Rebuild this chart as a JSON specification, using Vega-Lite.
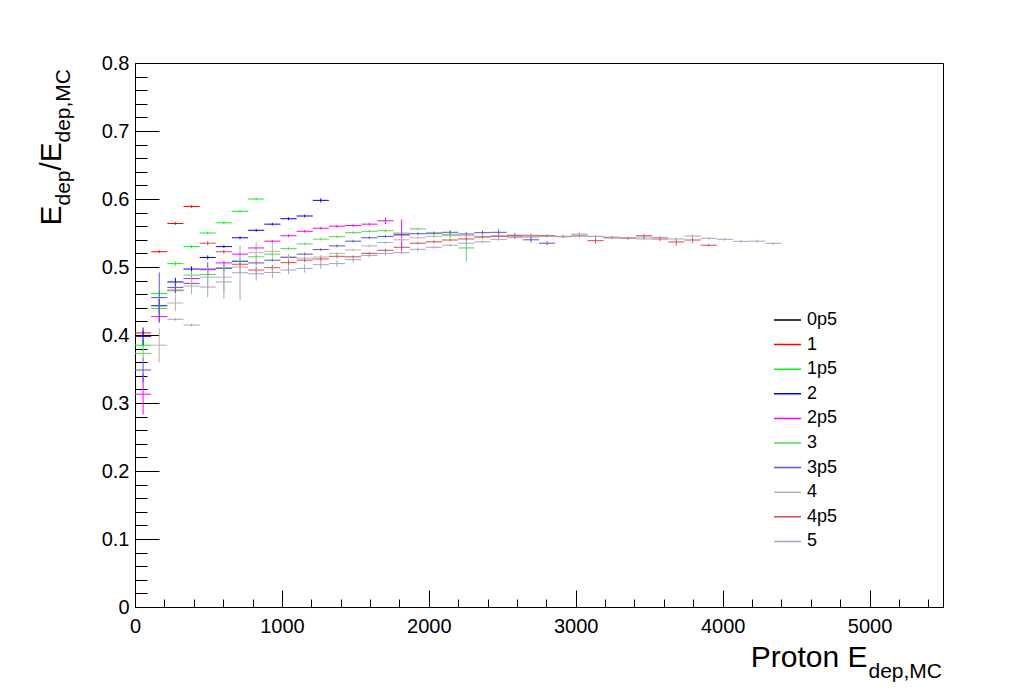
{
  "$schema": "https://vega.github.io/schema/vega-lite/v6.json",
  "autosize": {"type": "none"},
  "width": 808,
  "height": 544,
  "padding": {"left": 135, "top": 63, "right": 88, "bottom": 90},
  "background": "#ffffff",
  "config": {
    "font": "Liberation Sans",
    "view": {"stroke": "#000000", "strokeWidth": 1},
    "axis": {"grid": false, "domainColor": "#000000", "tickColor": "#000000", "labelColor": "#000000", "titleColor": "#000000", "titleFontWeight": "normal", "labelFont": "Liberation Sans", "titleFont": "Liberation Sans"}
  },
  "data": {"values": [
    {"s":"1","E":55,"v":0.403,"e":0.003},{"s":"1","E":165,"v":0.5225,"e":0.002},{"s":"1","E":275,"v":0.564,"e":0.002},{"s":"1","E":385,"v":0.589,"e":0.002},
    {"s":"1p5","E":55,"v":0.385,"e":0.008},{"s":"1p5","E":165,"v":0.461,"e":0.004},{"s":"1p5","E":275,"v":0.505,"e":0.003},{"s":"1p5","E":385,"v":0.53,"e":0.002},{"s":"1p5","E":495,"v":0.55,"e":0.002},{"s":"1p5","E":605,"v":0.565,"e":0.002},{"s":"1p5","E":715,"v":0.582,"e":0.002},{"s":"1p5","E":825,"v":0.6,"e":0.002},
    {"s":"2","E":55,"v":0.398,"e":0.013},{"s":"2","E":165,"v":0.443,"e":0.01},{"s":"2","E":275,"v":0.478,"e":0.006},{"s":"2","E":385,"v":0.497,"e":0.004},{"s":"2","E":495,"v":0.514,"e":0.003},{"s":"2","E":605,"v":0.53,"e":0.002},{"s":"2","E":715,"v":0.543,"e":0.002},{"s":"2","E":825,"v":0.554,"e":0.002},{"s":"2","E":935,"v":0.563,"e":0.002},{"s":"2","E":1045,"v":0.571,"e":0.002},{"s":"2","E":1155,"v":0.575,"e":0.002},{"s":"2","E":1265,"v":0.598,"e":0.003},
    {"s":"2p5","E":55,"v":0.313,"e":0.03},{"s":"2p5","E":165,"v":0.427,"e":0.008},{"s":"2p5","E":275,"v":0.466,"e":0.005},{"s":"2p5","E":385,"v":0.483,"e":0.004},{"s":"2p5","E":495,"v":0.496,"e":0.003},{"s":"2p5","E":605,"v":0.506,"e":0.003},{"s":"2p5","E":715,"v":0.519,"e":0.002},{"s":"2p5","E":825,"v":0.528,"e":0.002},{"s":"2p5","E":935,"v":0.538,"e":0.002},{"s":"2p5","E":1045,"v":0.546,"e":0.002},{"s":"2p5","E":1155,"v":0.5525,"e":0.002},{"s":"2p5","E":1265,"v":0.557,"e":0.002},{"s":"2p5","E":1375,"v":0.56,"e":0.002},{"s":"2p5","E":1485,"v":0.561,"e":0.002},{"s":"2p5","E":1595,"v":0.563,"e":0.002},{"s":"2p5","E":1705,"v":0.568,"e":0.005},{"s":"2p5","E":1815,"v":0.547,"e":0.023},
    {"s":"3","E":55,"v":0.373,"e":0.007},{"s":"3","E":165,"v":0.439,"e":0.006},{"s":"3","E":275,"v":0.465,"e":0.004},{"s":"3","E":385,"v":0.488,"e":0.006},{"s":"3","E":495,"v":0.489,"e":0.004},{"s":"3","E":605,"v":0.499,"e":0.003},{"s":"3","E":715,"v":0.509,"e":0.003},{"s":"3","E":825,"v":0.515,"e":0.003},{"s":"3","E":935,"v":0.519,"e":0.002},{"s":"3","E":1045,"v":0.527,"e":0.002},{"s":"3","E":1155,"v":0.534,"e":0.002},{"s":"3","E":1265,"v":0.541,"e":0.002},{"s":"3","E":1375,"v":0.5446,"e":0.002},{"s":"3","E":1485,"v":0.5505,"e":0.002},{"s":"3","E":1595,"v":0.5525,"e":0.002},{"s":"3","E":1705,"v":0.5534,"e":0.002},{"s":"3","E":1815,"v":0.55,"e":0.002},{"s":"3","E":1925,"v":0.556,"e":0.002},{"s":"3","E":2035,"v":0.549,"e":0.003},{"s":"3","E":2145,"v":0.548,"e":0.005},{"s":"3","E":2255,"v":0.528,"e":0.02},
    {"s":"3p5","E":55,"v":0.3485,"e":0.018},{"s":"3p5","E":165,"v":0.455,"e":0.037},{"s":"3p5","E":275,"v":0.47,"e":0.008},{"s":"3p5","E":385,"v":0.476,"e":0.006},{"s":"3p5","E":495,"v":0.497,"e":0.01},{"s":"3p5","E":605,"v":0.498,"e":0.004},{"s":"3p5","E":715,"v":0.508,"e":0.003},{"s":"3p5","E":825,"v":0.506,"e":0.003},{"s":"3p5","E":935,"v":0.51,"e":0.002},{"s":"3p5","E":1045,"v":0.514,"e":0.002},{"s":"3p5","E":1155,"v":0.519,"e":0.002},{"s":"3p5","E":1265,"v":0.5256,"e":0.002},{"s":"3p5","E":1375,"v":0.531,"e":0.002},{"s":"3p5","E":1485,"v":0.538,"e":0.002},{"s":"3p5","E":1595,"v":0.543,"e":0.002},{"s":"3p5","E":1705,"v":0.545,"e":0.002},{"s":"3p5","E":1815,"v":0.548,"e":0.002},{"s":"3p5","E":1925,"v":0.549,"e":0.002},{"s":"3p5","E":2035,"v":0.55,"e":0.002},{"s":"3p5","E":2145,"v":0.551,"e":0.003},{"s":"3p5","E":2255,"v":0.5485,"e":0.003},{"s":"3p5","E":2365,"v":0.5505,"e":0.003},{"s":"3p5","E":2475,"v":0.551,"e":0.004},{"s":"3p5","E":2585,"v":0.546,"e":0.004},{"s":"3p5","E":2695,"v":0.54,"e":0.004},{"s":"3p5","E":2805,"v":0.535,"e":0.003},
    {"s":"4","E":165,"v":0.385,"e":0.025},{"s":"4","E":275,"v":0.447,"e":0.012},{"s":"4","E":385,"v":0.472,"e":0.012},{"s":"4","E":495,"v":0.485,"e":0.015},{"s":"4","E":605,"v":0.485,"e":0.02},{"s":"4","E":715,"v":0.5,"e":0.01},{"s":"4","E":825,"v":0.521,"e":0.015},{"s":"4","E":935,"v":0.523,"e":0.012},{"s":"4","E":1045,"v":0.515,"e":0.004},{"s":"4","E":1155,"v":0.513,"e":0.003},{"s":"4","E":1265,"v":0.5147,"e":0.003},{"s":"4","E":1375,"v":0.52,"e":0.002},{"s":"4","E":1485,"v":0.525,"e":0.002},{"s":"4","E":1595,"v":0.531,"e":0.002},{"s":"4","E":1705,"v":0.536,"e":0.002},{"s":"4","E":1815,"v":0.54,"e":0.002},{"s":"4","E":1925,"v":0.543,"e":0.002},{"s":"4","E":2035,"v":0.545,"e":0.002},{"s":"4","E":2145,"v":0.546,"e":0.002},{"s":"4","E":2255,"v":0.546,"e":0.002},{"s":"4","E":2365,"v":0.545,"e":0.002},{"s":"4","E":2475,"v":0.546,"e":0.002},{"s":"4","E":2585,"v":0.547,"e":0.002},{"s":"4","E":2695,"v":0.547,"e":0.002},{"s":"4","E":2805,"v":0.546,"e":0.002},{"s":"4","E":2915,"v":0.545,"e":0.002},{"s":"4","E":3025,"v":0.5485,"e":0.003},{"s":"4","E":3135,"v":0.545,"e":0.002},{"s":"4","E":3245,"v":0.544,"e":0.002},{"s":"4","E":3355,"v":0.543,"e":0.002},{"s":"4","E":3465,"v":0.544,"e":0.002},
    {"s":"4p5","E":495,"v":0.535,"e":0.003},{"s":"4p5","E":605,"v":0.5225,"e":0.003},{"s":"4p5","E":715,"v":0.504,"e":0.004},{"s":"4p5","E":825,"v":0.4956,"e":0.005},{"s":"4p5","E":935,"v":0.499,"e":0.004},{"s":"4p5","E":1045,"v":0.5064,"e":0.004},{"s":"4p5","E":1155,"v":0.51,"e":0.003},{"s":"4p5","E":1265,"v":0.5118,"e":0.003},{"s":"4p5","E":1375,"v":0.5157,"e":0.003},{"s":"4p5","E":1485,"v":0.515,"e":0.002},{"s":"4p5","E":1595,"v":0.52,"e":0.002},{"s":"4p5","E":1705,"v":0.5245,"e":0.002},{"s":"4p5","E":1815,"v":0.529,"e":0.002},{"s":"4p5","E":1925,"v":0.535,"e":0.002},{"s":"4p5","E":2035,"v":0.537,"e":0.002},{"s":"4p5","E":2145,"v":0.5397,"e":0.002},{"s":"4p5","E":2255,"v":0.5412,"e":0.002},{"s":"4p5","E":2365,"v":0.544,"e":0.002},{"s":"4p5","E":2475,"v":0.545,"e":0.002},{"s":"4p5","E":2585,"v":0.5456,"e":0.002},{"s":"4p5","E":2695,"v":0.5456,"e":0.002},{"s":"4p5","E":2805,"v":0.546,"e":0.002},{"s":"4p5","E":2915,"v":0.5446,"e":0.002},{"s":"4p5","E":3025,"v":0.5456,"e":0.002},{"s":"4p5","E":3135,"v":0.5387,"e":0.004},{"s":"4p5","E":3245,"v":0.543,"e":0.002},{"s":"4p5","E":3355,"v":0.5422,"e":0.002},{"s":"4p5","E":3465,"v":0.546,"e":0.003},{"s":"4p5","E":3575,"v":0.5412,"e":0.003},{"s":"4p5","E":3685,"v":0.5368,"e":0.005},{"s":"4p5","E":3795,"v":0.5397,"e":0.004},{"s":"4p5","E":3905,"v":0.532,"e":0.002},
    {"s":"5","E":275,"v":0.4231,"e":0.002},{"s":"5","E":385,"v":0.4147,"e":0.002},{"s":"5","E":495,"v":0.4705,"e":0.015},{"s":"5","E":605,"v":0.478,"e":0.025},{"s":"5","E":715,"v":0.4915,"e":0.04},{"s":"5","E":825,"v":0.49,"e":0.01},{"s":"5","E":935,"v":0.492,"e":0.008},{"s":"5","E":1045,"v":0.4956,"e":0.006},{"s":"5","E":1155,"v":0.4978,"e":0.006},{"s":"5","E":1265,"v":0.5034,"e":0.006},{"s":"5","E":1375,"v":0.505,"e":0.005},{"s":"5","E":1485,"v":0.5108,"e":0.004},{"s":"5","E":1595,"v":0.517,"e":0.003},{"s":"5","E":1705,"v":0.52,"e":0.003},{"s":"5","E":1815,"v":0.5211,"e":0.003},{"s":"5","E":1925,"v":0.526,"e":0.003},{"s":"5","E":2035,"v":0.529,"e":0.002},{"s":"5","E":2145,"v":0.532,"e":0.002},{"s":"5","E":2255,"v":0.535,"e":0.002},{"s":"5","E":2365,"v":0.537,"e":0.002},{"s":"5","E":2475,"v":0.5407,"e":0.002},{"s":"5","E":2585,"v":0.543,"e":0.002},{"s":"5","E":2695,"v":0.544,"e":0.002},{"s":"5","E":2805,"v":0.545,"e":0.002},{"s":"5","E":2915,"v":0.545,"e":0.002},{"s":"5","E":3025,"v":0.547,"e":0.002},{"s":"5","E":3135,"v":0.545,"e":0.002},{"s":"5","E":3245,"v":0.543,"e":0.002},{"s":"5","E":3355,"v":0.5422,"e":0.002},{"s":"5","E":3465,"v":0.5412,"e":0.002},{"s":"5","E":3575,"v":0.5436,"e":0.002},{"s":"5","E":3685,"v":0.5412,"e":0.002},{"s":"5","E":3795,"v":0.5456,"e":0.002},{"s":"5","E":3905,"v":0.5422,"e":0.002},{"s":"5","E":4015,"v":0.5407,"e":0.002},{"s":"5","E":4125,"v":0.5377,"e":0.002},{"s":"5","E":4235,"v":0.538,"e":0.002},{"s":"5","E":4345,"v":0.5348,"e":0.002}
  ]},
  "transform": [
    {"calculate": "datum.E - 55", "as": "E_lo"},
    {"calculate": "datum.E + 55", "as": "E_hi"},
    {"calculate": "datum.v - datum.e", "as": "v_lo"},
    {"calculate": "datum.v + datum.e", "as": "v_hi"}
  ],
  "resolve": {"scale": {"x": "shared", "y": "shared", "color": "shared"}, "axis": {"x": "independent", "y": "independent"}},
  "layer": [
    {
      "mark": {"type": "rule", "strokeWidth": 1},
      "encoding": {
        "x": {"field": "E_lo", "type": "quantitative", "scale": {"domain": [0, 5500], "nice": false, "zero": false},
          "axis": {"orient": "bottom", "values": [0, 1000, 2000, 3000, 4000, 5000], "format": "d", "tickSize": -17, "labelPadding": 26, "labelFontSize": 20, "labelBaseline": "top", "labelFlush": false, "title": "Proton E", "titleFontSize": 30, "titleAlign": "right", "titleBaseline": "alphabetic", "titleX": 732, "titleY": 59, "titleAngle": 0}},
        "x2": {"field": "E_hi"},
        "y": {"field": "v", "type": "quantitative", "scale": {"domain": [0, 0.8], "nice": false, "zero": false},
          "axis": {"orient": "left", "values": [0, 0.1, 0.2, 0.3, 0.4, 0.5, 0.6, 0.7, 0.8], "format": "~g", "tickSize": -24, "labelPadding": 30, "labelFontSize": 20, "labelFlush": false, "title": "E", "titleFontSize": 30, "titleAngle": 270, "titleAlign": "left", "titleBaseline": "alphabetic", "titleX": -75, "titleY": 162}},
        "color": {"field": "s", "type": "nominal",
          "scale": {"domain": ["0p5", "1", "1p5", "2", "2p5", "3", "3p5", "4", "4p5", "5"], "range": ["#000000", "#ff0000", "#00ff00", "#0000ff", "#ff00ff", "#59d454", "#5954d9", "#bfb1a2", "#d94c4c", "#a3a3c6"]},
          "legend": {"orient": "none", "legendX": 638, "legendY": 245, "title": null, "symbolType": "stroke", "symbolSize": 729, "symbolStrokeWidth": 1.5, "labelFontSize": 18, "labelFont": "Liberation Sans", "labelColor": "#000000", "clipHeight": 24, "rowPadding": 0.6, "labelOffset": 5, "padding": 0}}
      }
    },
    {
      "mark": {"type": "rule", "strokeWidth": 1},
      "encoding": {
        "x": {"field": "E", "type": "quantitative",
          "axis": {"orient": "bottom", "values": [200, 400, 600, 800, 1200, 1400, 1600, 1800, 2200, 2400, 2600, 2800, 3200, 3400, 3600, 3800, 4200, 4400, 4600, 4800, 5200, 5400], "tickSize": -8, "labels": false, "domain": false, "title": "dep,MC", "titleFontSize": 21, "titleAlign": "left", "titleBaseline": "alphabetic", "titleX": 733, "titleY": 70, "titleAngle": 0}},
        "y": {"field": "v_lo", "type": "quantitative",
          "axis": {"orient": "left", "values": [0.02, 0.04, 0.06, 0.08, 0.12, 0.14, 0.16, 0.18, 0.22, 0.24, 0.26, 0.28, 0.32, 0.34, 0.36, 0.38, 0.42, 0.44, 0.46, 0.48, 0.52, 0.54, 0.56, 0.58, 0.62, 0.64, 0.66, 0.68, 0.72, 0.74, 0.76, 0.78], "tickSize": -12, "labels": false, "domain": false, "title": "dep", "titleFontSize": 21, "titleAngle": 270, "titleAlign": "left", "titleBaseline": "alphabetic", "titleX": -66, "titleY": 142}},
        "y2": {"field": "v_hi"},
        "color": {"field": "s", "type": "nominal"}
      }
    },
    {
      "mark": {"type": "rule", "opacity": 0},
      "encoding": {
        "x": {"field": "E", "type": "quantitative", "axis": null},
        "y": {"field": "v", "type": "quantitative",
          "axis": {"orient": "left", "ticks": false, "labels": false, "domain": false, "title": "/E", "titleFontSize": 30, "titleAngle": 270, "titleAlign": "left", "titleBaseline": "alphabetic", "titleX": -75, "titleY": 107}}
      }
    },
    {
      "mark": {"type": "rule", "opacity": 0},
      "encoding": {
        "x": {"field": "E", "type": "quantitative", "axis": null},
        "y": {"field": "v", "type": "quantitative",
          "axis": {"orient": "left", "ticks": false, "labels": false, "domain": false, "title": "dep,MC", "titleFontSize": 21, "titleAngle": 270, "titleAlign": "left", "titleBaseline": "alphabetic", "titleX": -66, "titleY": 79}}
      }
    }
  ]
}
